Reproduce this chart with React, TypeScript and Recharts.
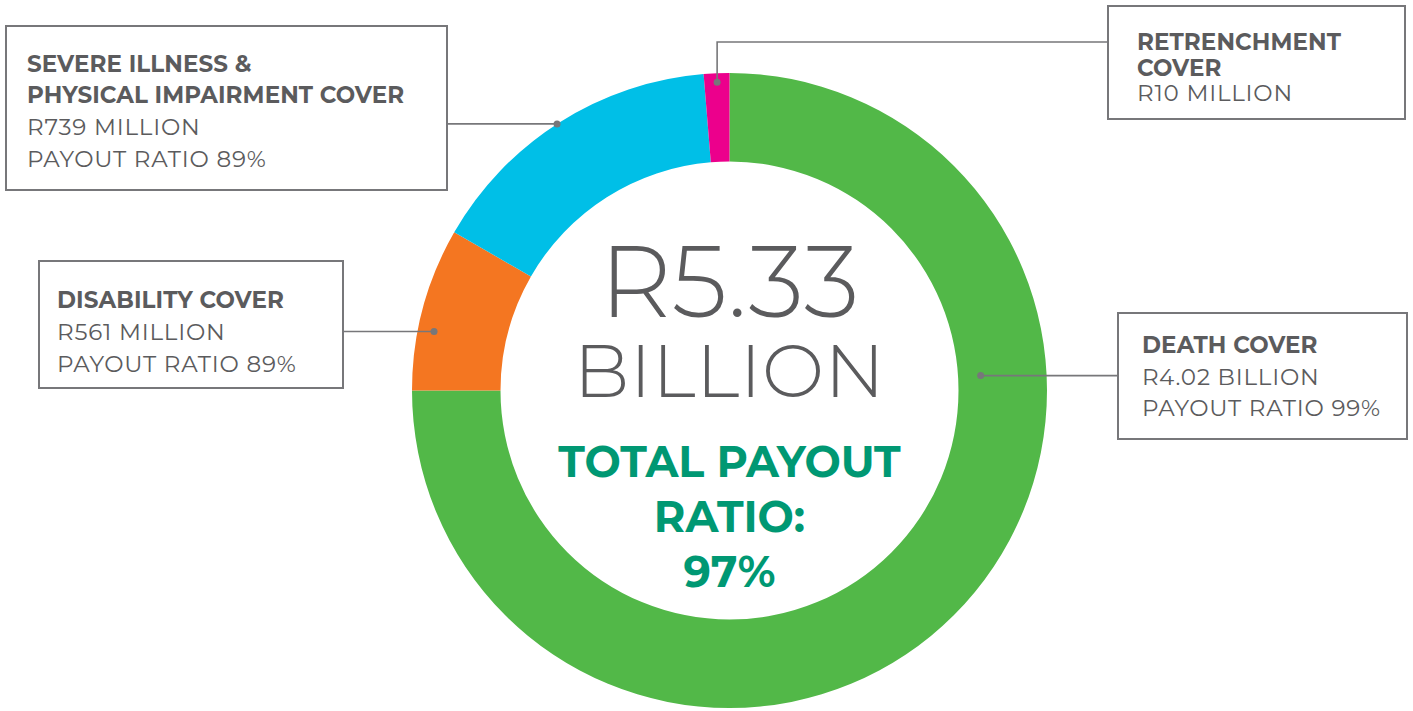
import React from 'react';
import { PieChart, Pie, Cell } from 'recharts';

// Categories in draw order (clockwise from 12 o'clock)
const categories = ['DEATH COVER', 'DISABILITY COVER', 'SEVERE ILLNESS & PHYSICAL IMPAIRMENT COVER', 'RETRENCHMENT COVER'];
// Slice shares (%)
const sliceShare = [75.0, 8.3, 15.4, 1.3];
// Label texts
const titleLines = [['DEATH COVER'], ['DISABILITY COVER'], ['SEVERE ILLNESS &', 'PHYSICAL IMPAIRMENT COVER'], ['RETRENCHMENT', 'COVER']];
const amountLabels = ['R4.02 BILLION', 'R561 MILLION', 'R739 MILLION', 'R10 MILLION'];
const ratioLabels = ['PAYOUT RATIO 99%', 'PAYOUT RATIO 89%', 'PAYOUT RATIO 89%', ''];
const totalAmount = ['R5.33', 'BILLION'];
const totalRatio = ['TOTAL PAYOUT', 'RATIO:', '97%'];

const COLORS = ['#52b848', '#f47621', '#00bfe7', '#ec008c'];
const TEXT = '#5b5b5d';
const LINE = '#77777a';
const TEAL = '#009873';
const FONT = "Montserrat, 'Open Sans', sans-serif";

const data = categories.map((name, i) => ({ name, value: sliceShare[i] }));

// annotation layout (box placement, callout dot polar position)
const layout = [
  { box: [1118, 313, 289, 126], textX: 1142, base: 353, lh: 31.7, dotAngle: 3.4, dotR: 251.6, kind: 'right' },
  { box: [39, 261, 304, 127], textX: 57, base: 308.3, lh: 31.7, dotAngle: 168.7, dotR: 301.3, kind: 'left' },
  { box: [6, 26, 441, 164], textX: 27, base: 71.7, lh: 31.7, dotAngle: 122.9, dotR: 317.5, kind: 'left' },
  { box: [1108, 6, 297, 113], textX: 1137, base: 50, lh: 25.5, dotAngle: 92.3, dotR: 308.4, kind: 'elbow', elbowY: 42 },
];

const RAD = Math.PI / 180;

const renderLabel = (props: any) => {
  const { cx, cy, index } = props;
  const L = layout[index];
  const dx = cx + L.dotR * Math.cos(-L.dotAngle * RAD);
  const dy = cy + L.dotR * Math.sin(-L.dotAngle * RAD);
  const [bx, by, bw, bh] = L.box;
  let path = '';
  if (L.kind === 'right') path = `M${dx},${dy}L${bx},${dy}`;
  else if (L.kind === 'left') path = `M${dx},${dy}L${bx + bw},${dy}`;
  else path = `M${dx},${dy}L${dx},${L.elbowY}L${bx},${L.elbowY}`;
  const lines: { t: string; bold: boolean }[] = [];
  titleLines[index].forEach((t) => lines.push({ t, bold: true }));
  lines.push({ t: amountLabels[index], bold: false });
  if (ratioLabels[index]) lines.push({ t: ratioLabels[index], bold: false });
  return (
    <g key={`ann-${index}`}>
      {index === 0 && (
        <g>
          <text x={cx} y={316.7} textAnchor="middle" fill={TEXT} fontFamily={FONT} fontWeight={300} fontSize={100}>
            {totalAmount[0]}
          </text>
          <text x={cx} y={397.3} textAnchor="middle" fill={TEXT} fontFamily={FONT} fontWeight={300} fontSize={74} letterSpacing={0.5}>
            {totalAmount[1]}
          </text>
          {totalRatio.map((t, i) => (
            <text key={t} x={cx} y={476.7 + i * 55} textAnchor="middle" fill={TEAL} fontFamily={FONT} fontWeight={700} fontSize={43}>
              {t}
            </text>
          ))}
        </g>
      )}
      <path d={path} stroke={LINE} strokeWidth={1.6} fill="none" />
      <circle cx={dx} cy={dy} r={3.5} fill={LINE} />
      <rect x={bx} y={by} width={bw} height={bh} fill="#fff" stroke={LINE} strokeWidth={2} />
      {lines.map((ln, i) => (
        <text
          key={i}
          x={L.textX}
          y={L.base + i * L.lh}
          fill={TEXT}
          fontFamily={FONT}
          fontWeight={ln.bold ? 700 : 400}
          fontSize={23}
          letterSpacing={ln.bold ? 0.1 : 0.8}
        >
          {ln.t}
        </text>
      ))}
    </g>
  );
};

export default function App() {
  return (
    <div style={{ position: 'absolute', left: 0, top: 0, width: 1413, height: 711, background: '#fff' }}>
      <PieChart width={1413} height={711} margin={{ top: 0, right: 0, bottom: 0, left: 0 }}>
        <Pie
          data={data}
          dataKey="value"
          nameKey="name"
          cx={729.5}
          cy={390.5}
          innerRadius={229}
          outerRadius={317.5}
          startAngle={90}
          endAngle={-270}
          stroke="none"
          label={renderLabel}
          labelLine={false}
          isAnimationActive={false}
        >
          {data.map((d, i) => (
            <Cell key={d.name} fill={COLORS[i]} stroke="none" />
          ))}
        </Pie>
      </PieChart>
    </div>
  );
}
